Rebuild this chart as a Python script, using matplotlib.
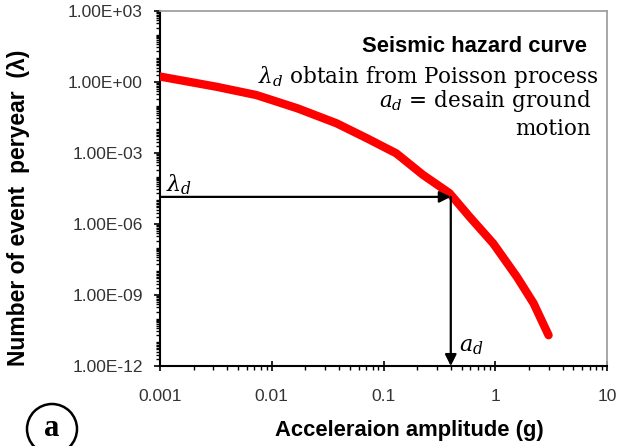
import numpy as np
import matplotlib
matplotlib.use("Agg")
import matplotlib.pyplot as plt
from matplotlib.patches import Ellipse
from matplotlib.ticker import FixedLocator, NullFormatter

plt.rcParams['font.family'] = ['Liberation Sans', 'DejaVu Sans']
plt.rcParams['mathtext.fontset'] = 'custom'
plt.rcParams['mathtext.rm'] = 'DejaVu Serif'
plt.rcParams['mathtext.it'] = 'DejaVu Serif:italic'

# hazard curve: annual rate of exceedance vs. acceleration
accel = [0.001, 0.0032, 0.0073, 0.017, 0.038, 0.071, 0.13, 0.225,
         0.39, 0.59, 0.96, 1.56, 2.2, 3.0]
rate = [1.7, 0.63, 0.28, 0.077, 0.018, 0.0042, 9.7e-4, 1.2e-4,
        2.0e-5, 2.0e-6, 1.5e-7, 5.9e-9, 4.5e-10, 2.0e-11]

# design point
a_d = 0.40
lam_d = 1.4e-5

xticks = [0.001, 0.01, 0.1, 1, 10]
xticklabels = ['0.001', '0.01', '0.1', '1', '10']
yticks = [1e3, 1e0, 1e-3, 1e-6, 1e-9, 1e-12]
yticklabels = ['1.00E+03', '1.00E+00', '1.00E-03', '1.00E-06',
               '1.00E-09', '1.00E-12']


def minor_locs(lo, hi):
    # 1..9 x 10^e for each decade, majors are dropped by matplotlib
    return [m * 10.0**e for e in range(lo, hi) for m in range(1, 10)]


def main():
    fig = plt.figure(figsize=(6.31, 4.46), dpi=100)
    ax = fig.add_axes([160/631, 80/446, 447/631, 355/446])

    ax.plot(accel, rate, color='#ff0000', lw=6, solid_capstyle='round',
            zorder=3)

    ax.set_xscale('log')
    ax.set_yscale('log')
    ax.set_xlim(0.001, 10)
    ax.set_ylim(1e-12, 1e3)

    ax.xaxis.set_major_locator(FixedLocator(xticks))
    ax.set_xticklabels(xticklabels)
    ax.yaxis.set_major_locator(FixedLocator(yticks))
    ax.set_yticklabels(yticklabels)
    ax.xaxis.set_minor_locator(FixedLocator(minor_locs(-3, 1)))
    ax.yaxis.set_minor_locator(FixedLocator(minor_locs(-12, 3)))
    ax.xaxis.set_minor_formatter(NullFormatter())
    ax.yaxis.set_minor_formatter(NullFormatter())

    ax.tick_params(axis='x', which='major', direction='inout', length=7,
                   width=1.2, labelsize=12.5, labelcolor='#333333', pad=13)
    ax.tick_params(axis='y', which='major', direction='out', length=4.5,
                   width=1.2, labelsize=12.5, labelcolor='#333333', pad=8)
    ax.tick_params(which='minor', direction='out', length=3, width=1)

    for s in ['left', 'bottom']:
        ax.spines[s].set_color('black')
        ax.spines[s].set_linewidth(1.5)
    for s in ['top', 'right']:
        ax.spines[s].set_color('#a0a0a0')
        ax.spines[s].set_linewidth(1.3)

    ax.set_xlabel('Acceleraion amplitude (g)', fontsize=15.8,
                  fontweight='bold', va='top')
    ax.xaxis.set_label_coords(0.557, -0.152)
    ax.set_ylabel('Number of event  peryear  (λ)', fontsize=16.5,
                  fontweight='bold')
    ax.yaxis.set_label_coords(-0.29, 0.446)

    # arrows to the design point
    ax.annotate('', xy=(a_d, lam_d), xytext=(0.001, lam_d),
                arrowprops=dict(arrowstyle='-|>', color='black', lw=1.6,
                                mutation_scale=17, shrinkA=0, shrinkB=0),
                zorder=4)
    ax.annotate('', xy=(a_d, 1e-12), xytext=(a_d, lam_d),
                arrowprops=dict(arrowstyle='-|>', color='black', lw=1.6,
                                mutation_scale=17, shrinkA=0, shrinkB=0),
                zorder=4)
    ax.text(0.00113, 2.5e-5, r'$\lambda_d$', fontsize=16, ha='left',
            va='baseline')
    ax.text(0.47, 4.3e-12, r'$a_d$', fontsize=16, ha='left',
            va='baseline')

    # description text, right aligned
    ax.text(0.955, 0.885, 'Seismic hazard curve', transform=ax.transAxes,
            fontsize=15.8, fontweight='bold', ha='right', va='baseline')
    ax.text(0.98, 0.797, r'$\lambda_d$ obtain from Poisson process',
            transform=ax.transAxes, fontsize=15.5, family='DejaVu Serif',
            ha='right', va='baseline')
    ax.text(0.965, 0.73, r'$a_d$ = desain ground',
            transform=ax.transAxes, fontsize=15.5, family='DejaVu Serif',
            ha='right', va='baseline')
    ax.text(0.965, 0.651, 'motion', transform=ax.transAxes, fontsize=15.5,
            family='DejaVu Serif', ha='right', va='baseline')

    # panel label
    fig.add_artist(Ellipse((52/631, 1 - 429/446), 50/631, 50/446,
                           transform=fig.transFigure, fc='none',
                           ec='black', lw=1.8))
    fig.text(52/631, 1 - 429/446, 'a', fontsize=22, fontweight='bold',
             family='Liberation Serif', ha='center', va='center')

    fig.savefig('out.png', dpi=100)


if __name__ == '__main__':
    main()
